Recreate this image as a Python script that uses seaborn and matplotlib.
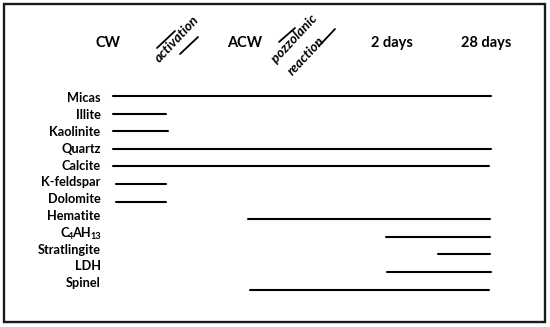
import matplotlib
matplotlib.use("Agg")
import matplotlib.pyplot as plt
import pandas as pd
import seaborn as sns

# phases and the stage range each one is seen over (x)
minerals = ["Micas", "Illite", "Kaolinite", "Quartz", "Calcite", "K-feldspar",
            "Dolomite", "Hematite", "C4AH13", "Stratlingite", "LDH", "Spinel"]
start_x = [113, 113, 113, 113, 113, 116, 116, 248, 386, 438, 387, 250]
end_x = [491, 166, 168, 491, 489, 166, 166, 490, 490, 490, 491, 489]

stages = ["CW", "ACW", "2 days", "28 days"]
stage_x = [108, 245, 392, 486]

W, H = 550, 327
Y0, DY = 96, 17.6  # pixel row of first line, row spacing


def fig_xy(x, y):
    return x / W, 1 - y / H


sns.set_theme(style="white")
plt.rcParams["font.family"] = ["Lato", "DejaVu Sans"]

rows = []
for i, (m, a, b) in enumerate(zip(minerals, start_x, end_x)):
    rows.append({"mineral": m, "x": a, "row": i})
    rows.append({"mineral": m, "x": b, "row": i})
df = pd.DataFrame(rows)

fig = plt.figure(figsize=(5.5, 3.27), dpi=100)
ax = fig.add_axes([0, 0, 1, 1])
sns.lineplot(data=df, x="x", y="row", units="mineral", estimator=None,
             sort=False, color="black", lw=1.5, legend=False, ax=ax)
ax.set_xlim(0, W)
ax.set_ylim((H - Y0) / DY, -Y0 / DY)
ax.axis("off")

LABEL_FS = 9.2
SUB_FS = 6.6


def subscript_label(y, parts):
    # build a bold label with subscripts from the right edge leftwards
    prev = None
    for txt, is_sub in reversed(parts):
        fs = SUB_FS if is_sub else LABEL_FS
        dy = -2.5 if is_sub else 0
        if prev is None:
            prev = ax.annotate(txt, xy=(100.5, y), xycoords="data",
                               xytext=(0, dy), textcoords="offset points",
                               ha="right", va="center", fontsize=fs,
                               fontweight="bold", color="black")
        else:
            prev = ax.annotate(txt, xy=(0, 0.5), xycoords=prev,
                               xytext=(0.7, dy - prev_dy),
                               textcoords="offset points",
                               ha="right", va="center", fontsize=fs,
                               fontweight="bold", color="black")
        prev_dy = dy


# mineral names, right aligned
for i, m in enumerate(minerals):
    y = (98.5 + 16.8 * i - Y0) / DY
    if m == "C4AH13":
        subscript_label(y, [("C", False), ("4", True), ("AH", False), ("13", True)])
    else:
        ax.text(100.5, y, m, ha="right", va="center",
                fontsize=LABEL_FS, fontweight="bold", color="black")

# stage headers
for s, x in zip(stages, stage_x):
    ax.text(x, (43 - Y0) / DY, s, ha="center", va="center",
            fontsize=10.5, fontweight="bold", color="black")

# slanted process notes
rot_kw = dict(rotation=47, rotation_mode="anchor", ha="center", va="center",
              fontsize=9.8, fontweight="bold", style="italic", color="black",
              transform=fig.transFigure)
fig.text(*fig_xy(177, 39), "activation", **rot_kw)
fig.text(*fig_xy(294, 39), "pozzolanic", **rot_kw)
fig.text(*fig_xy(306, 56), "reaction", **rot_kw)

for (x1, y1), (x2, y2) in [((157, 48), (175, 31)), ((180, 54), (198, 37)),
                           ((279, 42), (295, 28)), ((319, 46), (335, 29))]:
    p1, p2 = fig_xy(x1, y1), fig_xy(x2, y2)
    fig.add_artist(plt.Line2D([p1[0], p2[0]], [p1[1], p2[1]], color="black",
                              lw=1.3, transform=fig.transFigure))

# frame round the whole figure
x0, y0 = fig_xy(4, 322)
x1, y1 = fig_xy(545, 4)
fig.add_artist(plt.Rectangle((x0, y0), x1 - x0, y1 - y0, fill=False,
                             edgecolor="#1a1a1a", lw=1.7,
                             transform=fig.transFigure))

fig.savefig("out.png", dpi=100)
